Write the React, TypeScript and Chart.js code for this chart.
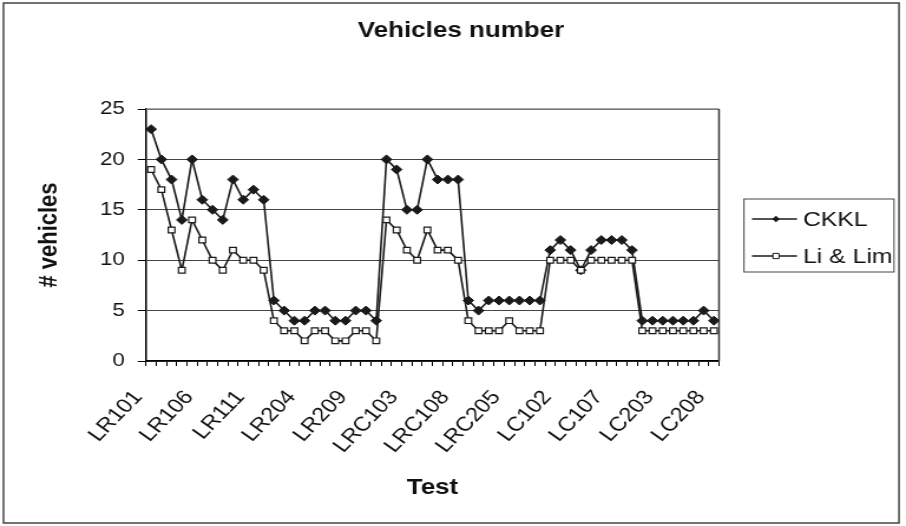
import React, { useEffect, useRef } from 'react';
import { Chart, registerables } from 'chart.js';

Chart.register(...registerables);

// ---------- data ----------
const TESTS: string[] = [
  'LR101', 'LR102', 'LR103', 'LR104', 'LR105', 'LR106', 'LR107', 'LR108', 'LR109', 'LR110', 'LR111', 'LR112',
  'LR201', 'LR202', 'LR203', 'LR204', 'LR205', 'LR206', 'LR207', 'LR208', 'LR209', 'LR210', 'LR211',
  'LRC101', 'LRC102', 'LRC103', 'LRC104', 'LRC105', 'LRC106', 'LRC107', 'LRC108',
  'LRC201', 'LRC202', 'LRC203', 'LRC204', 'LRC205', 'LRC206', 'LRC207', 'LRC208',
  'LC101', 'LC102', 'LC103', 'LC104', 'LC105', 'LC106', 'LC107', 'LC108', 'LC109',
  'LC201', 'LC202', 'LC203', 'LC204', 'LC205', 'LC206', 'LC207', 'LC208',
];

const CKKL: number[] = [
  23, 20, 18, 14, 20, 16, 15, 14, 18, 16, 17, 16,
  6, 5, 4, 4, 5, 5, 4, 4, 5, 5, 4,
  20, 19, 15, 15, 20, 18, 18, 18,
  6, 5, 6, 6, 6, 6, 6, 6,
  11, 12, 11, 9, 11, 12, 12, 12, 11,
  4, 4, 4, 4, 4, 4, 5, 4,
];

const LI_LIM: number[] = [
  19, 17, 13, 9, 14, 12, 10, 9, 11, 10, 10, 9,
  4, 3, 3, 2, 3, 3, 2, 2, 3, 3, 2,
  14, 13, 11, 10, 13, 11, 11, 10,
  4, 3, 3, 3, 4, 3, 3, 3,
  10, 10, 10, 9, 10, 10, 10, 10, 10,
  3, 3, 3, 3, 3, 3, 3, 3,
];

const SERIES_NAMES = ['CKKL', 'Li & Lim'];
const TITLE = 'Vehicles number';
const X_TITLE = 'Test';
const Y_TITLE = '# vehicles';
const Y_MIN = 0;
const Y_MAX = 25;
const Y_STEP = 5;
const LABEL_EVERY = 5;

// ---------- layout (intrinsic canvas px; canvas is stretched horizontally by CSS) ----------
const CSS_W = 906;
const CSS_H = 526;
const W = 768;
const H = 526;
const K = CSS_W / W;
const PLOT_LEFT = 146 / K;
const PLOT_RIGHT = 719 / K;
const PLOT_TOP = 109;
const PLOT_BOTTOM = 361;
const FONT = '"Liberation Sans", Arial, Helvetica, sans-serif';
const INK = '#1a1a1a';

Chart.defaults.font.family = FONT;

function drawMarker(ctx: CanvasRenderingContext2D, style: string, x: number, y: number, r: number) {
  ctx.beginPath();
  if (style === 'rectRot') {
    ctx.moveTo(x, y - r);
    ctx.lineTo(x + r, y);
    ctx.lineTo(x, y + r);
    ctx.lineTo(x - r, y);
    ctx.closePath();
    ctx.fillStyle = INK;
    ctx.fill();
  } else {
    ctx.rect(x - r, y - r, 2 * r, 2 * r);
    ctx.fillStyle = '#fff';
    ctx.fill();
    ctx.strokeStyle = INK;
    ctx.lineWidth = 1;
    ctx.stroke();
  }
}

const framePlugin = {
  id: 'frame',
  afterDraw(chart: any) {
    const ctx: CanvasRenderingContext2D = chart.ctx;
    const { left, right, top, bottom } = chart.chartArea;
    ctx.save();
    // outer frame
    ctx.strokeStyle = '#444';
    ctx.lineWidth = 1.5;
    ctx.strokeRect(3.5 / K, 3, 899 / K - 3.5 / K, 520);
    // plot area top / right border
    ctx.lineWidth = 1.5;
    ctx.strokeStyle = '#8a8a8a';
    ctx.beginPath();
    ctx.moveTo(left, top);
    ctx.lineTo(right, top);
    ctx.stroke();
    ctx.strokeStyle = '#333';
    ctx.beginPath();
    ctx.moveTo(right, top);
    ctx.lineTo(right, bottom);
    ctx.stroke();
    // title
    ctx.fillStyle = '#111';
    ctx.font = `bold 22px ${FONT}`;
    ctx.textAlign = 'center';
    ctx.textBaseline = 'middle';
    ctx.fillText(TITLE, 461 / K, 31);
    // legend
    const bx = 744 / K;
    const by = 199;
    const bw = 894 / K - bx;
    const bh = 73;
    ctx.strokeStyle = '#444';
    ctx.lineWidth = 1;
    ctx.strokeRect(bx, by, bw, bh);
    const rows = [219, 256];
    const styles = ['rectRot', 'rect'];
    const sizes = [3.2, 2.6];
    chart.data.datasets.forEach((ds: any, i: number) => {
      const y = rows[i];
      ctx.strokeStyle = INK;
      ctx.lineWidth = 1.3;
      ctx.beginPath();
      ctx.moveTo(752 / K, y);
      ctx.lineTo(797 / K, y);
      ctx.stroke();
      drawMarker(ctx, styles[i], 776 / K, y, sizes[i]);
      ctx.fillStyle = '#111';
      ctx.font = `21px ${FONT}`;
      ctx.textAlign = 'left';
      ctx.textBaseline = 'middle';
      ctx.fillText(ds.label, 803 / K, y + 1);
    });
    ctx.restore();
  },
};

export default function App() {
  const ref = useRef<HTMLCanvasElement | null>(null);

  useEffect(() => {
    const canvas = ref.current;
    if (!canvas) return;
    const chart = new Chart(canvas, {
      type: 'line',
      data: {
        labels: TESTS,
        datasets: [
          {
            label: SERIES_NAMES[0],
            data: CKKL,
            borderColor: INK,
            borderWidth: 1.6,
            pointStyle: 'rectRot',
            pointRadius: 4.5,
            pointBackgroundColor: INK,
            pointBorderColor: INK,
            pointBorderWidth: 1,
            tension: 0,
            order: 2,
          },
          {
            label: SERIES_NAMES[1],
            data: LI_LIM,
            borderColor: INK,
            borderWidth: 1.6,
            pointStyle: 'rect',
            pointRadius: 4,
            pointBackgroundColor: '#ffffff',
            pointBorderColor: INK,
            pointBorderWidth: 1.2,
            tension: 0,
            order: 1,
          },
        ],
      },
      options: {
        animation: false,
        responsive: false,
        devicePixelRatio: 1,
        layout: { padding: { left: 0, right: W - PLOT_RIGHT, top: PLOT_TOP, bottom: 0 } },
        plugins: {
          legend: { display: false },
          title: { display: false },
          tooltip: { enabled: false },
        },
        scales: {
          x: {
            type: 'category',
            offset: true,
            grid: {
              display: true,
              drawOnChartArea: false,
              drawTicks: true,
              tickLength: 5,
              offset: true,
              color: '#000',
              tickColor: '#000',
              lineWidth: 1,
            },
            border: { display: true, color: '#000', width: 1.5 },
            ticks: {
              autoSkip: false,
              maxRotation: 50,
              minRotation: 50,
              padding: 20,
              labelOffset: -11,
              color: '#111',
              font: { size: 20 },
              callback: (_v: any, i: number) => (i % LABEL_EVERY === 0 ? TESTS[i] : ''),
            },
            title: {
              display: true,
              text: X_TITLE,
              color: '#111',
              font: { size: 22, weight: 'bold' },
              padding: { top: 0, bottom: 25 },
            },
            afterFit: (s: any) => {
              s.height = H - PLOT_BOTTOM;
            },
          },
          y: {
            min: Y_MIN,
            max: Y_MAX,
            ticks: { stepSize: Y_STEP, padding: 11, color: '#111', font: { size: 19 } },
            grid: { color: '#444', lineWidth: 1, tickLength: 7, tickColor: '#000' },
            border: { display: true, color: '#000', width: 1.5 },
            title: {
              display: true,
              text: Y_TITLE,
              color: '#111',
              font: { size: 22, weight: 'bold' },
              padding: { top: 29, bottom: 0 },
            },
            afterFit: (s: any) => {
              s.width = PLOT_LEFT;
            },
          },
        },
      },
      plugins: [framePlugin],
    } as any);
    return () => chart.destroy();
  }, []);

  return (
    <div style={{ position: 'absolute', left: 0, top: 0, width: CSS_W, height: CSS_H, background: '#fff' }}>
      <canvas
        ref={ref}
        width={W}
        height={H}
        style={{ width: `${CSS_W}px`, height: `${CSS_H}px`, display: 'block' }}
      />
    </div>
  );
}
